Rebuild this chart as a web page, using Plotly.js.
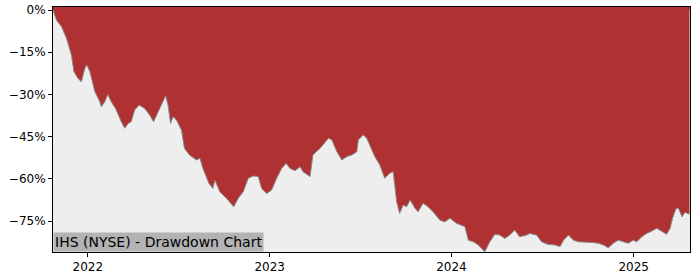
<!DOCTYPE html>
<html>
<head>
<meta charset="utf-8">
<script src="https://cdn.plot.ly/plotly-3.0.1.min.js"></script>
<style>html,body{margin:0;padding:0;background:#fff;}#chart{width:700px;height:280px;}</style>
</head>
<body>
<div id="chart"></div>
<script>
const dates = [
"2021-10-23","2021-10-30","2021-11-09","2021-11-19","2021-11-29","2021-12-04","2021-12-12","2021-12-19","2021-12-26","2021-12-30",
"2022-01-05","2022-01-15","2022-01-25","2022-01-28","2022-02-04","2022-02-10","2022-02-17","2022-02-27","2022-03-09","2022-03-16",
"2022-03-23","2022-03-29","2022-04-05","2022-04-14","2022-04-25","2022-05-05","2022-05-13","2022-05-22","2022-06-01","2022-06-06",
"2022-06-11","2022-06-16","2022-06-21","2022-06-28","2022-07-08","2022-07-14","2022-07-24","2022-08-07","2022-08-14","2022-08-20",
"2022-09-01","2022-09-09","2022-09-13","2022-09-23","2022-10-06","2022-10-21","2022-10-30","2022-11-09","2022-11-19","2022-11-29",
"2022-12-09","2022-12-16","2022-12-26","2023-01-05","2023-01-15","2023-01-25","2023-02-03","2023-02-11","2023-02-21","2023-03-03",
"2023-03-09","2023-03-23","2023-03-29","2023-04-12","2023-04-29","2023-05-06","2023-05-16","2023-05-26","2023-06-05","2023-06-15",
"2023-06-25","2023-06-28","2023-07-08","2023-07-15","2023-07-21","2023-07-31","2023-08-10","2023-08-20","2023-08-30","2023-09-06",
"2023-09-13","2023-09-19","2023-09-26","2023-10-03","2023-10-10","2023-10-20","2023-10-26","2023-11-05","2023-11-15","2023-11-25",
"2023-12-09","2023-12-19","2023-12-29","2024-01-11","2024-01-28","2024-02-04","2024-02-14","2024-02-24","2024-03-08","2024-03-18",
"2024-03-28","2024-04-07","2024-04-17","2024-04-27","2024-05-07","2024-05-17","2024-05-31","2024-06-06","2024-06-20","2024-06-30",
"2024-07-13","2024-07-27","2024-08-06","2024-08-13","2024-08-23","2024-09-02","2024-09-12","2024-09-25","2024-10-09","2024-10-22",
"2024-11-01","2024-11-11","2024-11-21","2024-12-01","2024-12-15","2024-12-21","2024-12-31","2025-01-07","2025-01-17","2025-01-27",
"2025-02-06","2025-02-16","2025-02-26","2025-03-08","2025-03-15","2025-03-20","2025-03-27","2025-04-01","2025-04-08","2025-04-14",
"2025-04-23"
];
const drawdown = [
0,-3.6,-5.9,-10,-16,-21.9,-24.3,-25.5,-20.7,-19.5,
-21.9,-29,-32.6,-34.4,-32.6,-30,-32.6,-35.5,-39.7,-42,
-40.3,-39.7,-35.5,-33.8,-35,-37.3,-39.7,-36.2,-32.6,-30.5,
-33.8,-40.3,-37.9,-39.1,-42.7,-49.2,-51.5,-53.3,-52.7,-56.3,
-61.6,-63.4,-60.4,-64.6,-66.9,-69.9,-66.9,-64.6,-59.8,-59,
-59.2,-63.4,-65.2,-64,-59.8,-56.3,-54.5,-56.3,-57.1,-55.7,
-57.5,-59.2,-51.5,-49.2,-45.6,-46.2,-50.4,-53.3,-52.1,-51.5,
-50.4,-46.2,-44.4,-45.6,-48,-52.1,-55,-59.8,-58,-57.5,
-68.1,-72.3,-69.3,-69.9,-67.5,-70.5,-71.7,-68.7,-69.9,-71.7,
-74.7,-75.3,-74,-75.8,-77,-81.8,-82.4,-83.5,-85.9,-82.4,
-79.7,-80,-81.2,-80,-78.2,-80.6,-80,-79.4,-80,-82.4,
-83.3,-83.5,-84.1,-81.8,-80,-81.8,-82.4,-82.4,-82.6,-82.9,
-83.5,-84.5,-82.9,-81.8,-82.6,-82.9,-81.8,-82.4,-80.6,-79.4,
-78.6,-77.6,-78.6,-79.7,-77.6,-74,-70.5,-70.5,-73.5,-71.9,
-72.6
];
const yTickVals = [0,-15,-30,-45,-60,-75];
const yTickText = ["0%","\u221215%","\u221230%","\u221245%","\u221260%","\u221275%"];
const xTickVals = ["2022-01-01","2023-01-01","2024-01-01","2025-01-01"];
const xTickText = ["2022","2023","2024","2025"];
const chartLabel = "IHS (NYSE) - Drawdown Chart";

const RED = "#b03131";
const trace = {
  x: dates, y: drawdown, type: "scatter", mode: "lines",
  fill: "tozeroy", fillcolor: RED,
  line: {color: "#8a8a8a", width: 1},
  hoverinfo: "skip"
};
const layout = {
  width: 700, height: 280,
  margin: {l: 53, r: 10, t: 7, b: 28},
  paper_bgcolor: "#ffffff",
  plot_bgcolor: "#eeeeee",
  showlegend: false,
  font: {family: "DejaVu Sans", size: 12, color: "#000"},
  xaxis: {
    type: "date", range: ["2021-10-23","2025-04-24"],
    tickvals: xTickVals, ticktext: xTickText,
    showgrid: false, zeroline: false,
    showline: true, mirror: true, linecolor: "#000", linewidth: 1,
    ticks: "outside", ticklen: 4, tickcolor: "#000",
    tickfont: {family: "DejaVu Sans", size: 12, color: "#000"}
  },
  yaxis: {
    range: [-86, 1.07],
    tickvals: yTickVals, ticktext: yTickText,
    showgrid: false, zeroline: false,
    showline: true, mirror: true, linecolor: "#000", linewidth: 1,
    ticks: "outside", ticklen: 4, tickcolor: "#000",
    tickfont: {family: "DejaVu Sans", size: 12, color: "#000"}
  },
  shapes: [{
    type: "rect", xref: "paper", yref: "y", x0: 0, x1: 1, y0: 0, y1: 5,
    fillcolor: RED, line: {width: 0}, layer: "below"
  }],
  annotations: [{
    text: chartLabel, xref: "paper", yref: "paper", x: 0, y: 0,
    xanchor: "left", yanchor: "bottom", showarrow: false,
    bgcolor: "#b3b3b3", borderpad: 1,
    font: {family: "DejaVu Sans", size: 14, color: "#000"}
  }]
};
Plotly.newPlot("chart", [trace], layout, {staticPlot: true, displayModeBar: false});
</script>
</body>
</html>
